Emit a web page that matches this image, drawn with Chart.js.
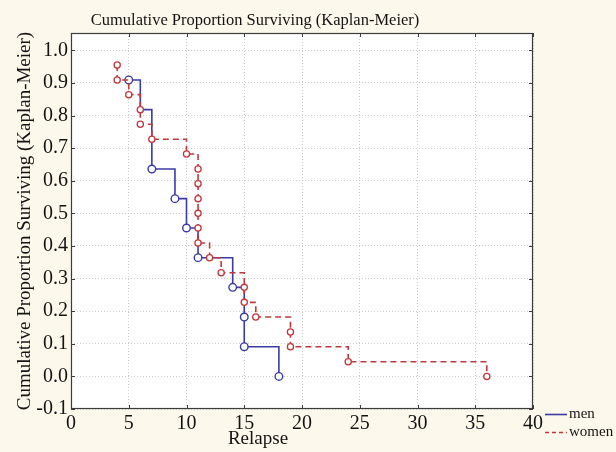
<!DOCTYPE html>
<html><head><meta charset="utf-8">
<script src="https://cdn.jsdelivr.net/npm/chart.js@4.4.1/dist/chart.umd.min.js"></script>
<style>html,body{margin:0;padding:0;background:#fdf8ec;}#wrap{width:616px;height:452px;position:relative;}</style>
</head><body><div id="wrap"><canvas id="c" width="616" height="452"></canvas></div>
<script>
const chartTitle = 'Cumulative Proportion Surviving (Kaplan-Meier)';
const xTitle = 'Relapse';
const yTitle = 'Cumulative Proportion Surviving (Kaplan-Meier)';
const seriesNames = ['men', 'women'];
const menTime = [5, 6, 7, 9, 10, 11, 14, 15, 15, 18];
const menSurv = [0.909, 0.818, 0.636, 0.545, 0.455, 0.364, 0.273, 0.182, 0.091, 0.0];
const womenTime = [4, 4, 5, 6, 6, 7, 10, 11, 11, 11, 11, 11, 11, 12, 13, 15, 15, 16, 19, 19, 24, 36];
const womenSurv = [0.955, 0.909, 0.864, 0.818, 0.773, 0.727, 0.682, 0.636, 0.591, 0.545, 0.500, 0.455, 0.409, 0.364, 0.318, 0.273, 0.227, 0.182, 0.136, 0.091, 0.045, 0.0];
const xTicks = [0, 5, 10, 15, 20, 25, 30, 35, 40];
const yTicks = [-0.1, 0.0, 0.1, 0.2, 0.3, 0.4, 0.5, 0.6, 0.7, 0.8, 0.9, 1.0];

const SERIF = '"Liberation Serif", "Times New Roman", serif';
const BLUE = '#3b3ba6';
const RED = '#c0393e';

const toPts = (t, s) => t.map((v, i) => ({x: v, y: s[i]}));

const decor = {
  id: 'decor',
  beforeDraw(chart) {
    const {ctx, chartArea: a} = chart;
    ctx.save();
    ctx.fillStyle = '#ffffff';
    ctx.fillRect(a.left, a.top, a.right - a.left, a.bottom - a.top);
    ctx.restore();
  },
  beforeDatasetsDraw(chart) {
    const {ctx, chartArea: a, scales} = chart;
    ctx.save();
    ctx.strokeStyle = '#3c3c3c';
    ctx.lineWidth = 1.2;
    ctx.strokeRect(a.left + 0.5, a.top + 0.5, a.right - a.left - 1, a.bottom - a.top - 1);
    ctx.lineWidth = 1;
    ctx.beginPath();
    yTicks.forEach(v => {
      const y = Math.round(scales.y.getPixelForValue(v)) + 0.5;
      ctx.moveTo(a.left, y); ctx.lineTo(a.left + 4, y);
      ctx.moveTo(a.right, y); ctx.lineTo(a.right - 4, y);
    });
    xTicks.forEach(v => {
      const x = Math.round(scales.x.getPixelForValue(v)) + 0.5;
      ctx.moveTo(x, a.bottom); ctx.lineTo(x, a.bottom - 4);
      ctx.moveTo(x, a.top); ctx.lineTo(x, a.top + 4);
    });
    ctx.stroke();
    ctx.restore();
  },
  afterDraw(chart) {
    const {ctx} = chart;
    ctx.save();
    ctx.fillStyle = '#141414';
    ctx.textAlign = 'center';
    ctx.textBaseline = 'alphabetic';
    ctx.font = '16.5px ' + SERIF;
    ctx.fillText(chartTitle, 255, 25);
    ctx.font = '19px ' + SERIF;
    ctx.fillText(xTitle, 258, 444);
    const items = [
      {label: seriesNames[0], color: BLUE, dash: [], y: 414},
      {label: seriesNames[1], color: RED, dash: [4, 3], y: 432}
    ];
    items.forEach(it => {
      ctx.strokeStyle = it.color;
      ctx.lineWidth = 1.6;
      ctx.setLineDash(it.dash);
      ctx.beginPath();
      ctx.moveTo(545, it.y + 0.5); ctx.lineTo(567, it.y + 0.5);
      ctx.stroke();
      ctx.setLineDash([]);
      ctx.textAlign = 'left';
      ctx.textBaseline = 'middle';
      ctx.font = '15px ' + SERIF;
      ctx.fillStyle = '#141414';
      ctx.fillText(it.label, 569, it.y);
    });
    ctx.restore();
  }
};

new Chart(document.getElementById('c'), {
  type: 'line',
  data: {
    datasets: [
      {
        label: seriesNames[0],
        data: toPts(menTime, menSurv),
        borderColor: BLUE,
        borderWidth: 1.6,
        stepped: true,
        fill: false,
        pointStyle: 'circle',
        pointRadius: c => (c.dataIndex === 1 ? 0 : 3.8),
        pointBorderColor: BLUE,
        pointBackgroundColor: '#ffffff',
        pointBorderWidth: 1.4,
        clip: false,
        order: 2
      },
      {
        label: seriesNames[1],
        data: toPts(womenTime, womenSurv),
        borderColor: RED,
        borderWidth: 1.6,
        borderDash: [6, 4],
        stepped: true,
        fill: false,
        pointStyle: 'circle',
        pointRadius: 3.1,
        pointBorderColor: RED,
        pointBackgroundColor: '#ffffff',
        pointBorderWidth: 1.3,
        clip: false,
        order: 1
      }
    ]
  },
  options: {
    responsive: false,
    devicePixelRatio: 1,
    animation: false,
    layout: {padding: {top: 33, right: 83, left: 0, bottom: 0}},
    plugins: {legend: {display: false}, title: {display: false}, tooltip: {enabled: false}},
    scales: {
      x: {
        type: 'linear',
        min: 0, max: 40,
        afterBuildTicks: s => { s.ticks = xTicks.map(v => ({value: v})); },
        afterFit: s => { s.height = 43; },
        grid: {color: '#cccccc', lineWidth: 1, drawTicks: false},
        border: {display: false, dash: [1, 2]},
        ticks: {padding: 3, color: '#141414', font: {family: SERIF, size: 20}, maxRotation: 0,
                callback: v => String(v)},
        title: {display: false}
      },
      y: {
        type: 'linear',
        min: -0.1, max: 1.053,
        afterBuildTicks: s => { s.ticks = yTicks.map(v => ({value: v})); },
        afterFit: s => { s.width = 71; },
        grid: {color: '#cccccc', lineWidth: 1, drawTicks: false},
        border: {display: false, dash: [1, 2]},
        ticks: {padding: 3, color: '#141414', font: {family: SERIF, size: 20},
                callback: v => v.toFixed(1)},
        title: {display: true, text: yTitle, color: '#141414',
                font: {family: SERIF, size: 19, lineHeight: 1.2}, padding: {top: 14, bottom: 0}}
      }
    }
  },
  plugins: [decor]
});
</script>
</body></html>
